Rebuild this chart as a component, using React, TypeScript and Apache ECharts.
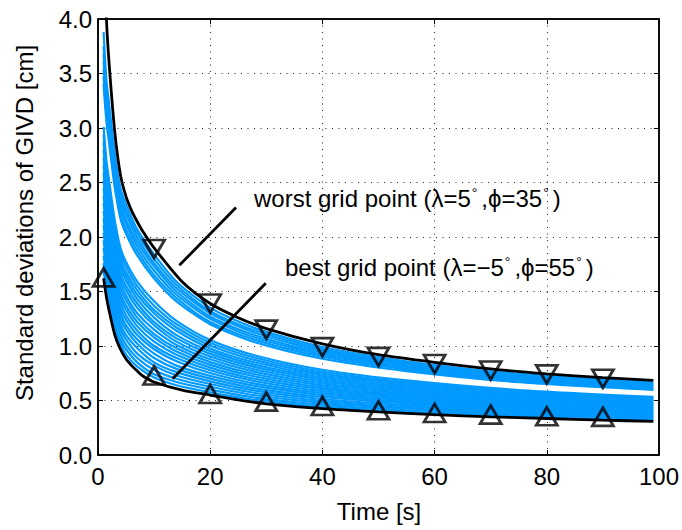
import React, { useEffect, useRef } from 'react';
import * as echarts from 'echarts';

// ---- data ----
const lineTimes = [1, 1.5, 2, 3, 4, 5, 6, 7, 8, 10, 15, 20, 25, 30, 40, 50, 60, 70, 80, 90, 99];
const worstValues = [4.7, 4.0, 3.58, 2.96, 2.57, 2.37, 2.24, 2.14, 2.05, 1.9, 1.59, 1.39, 1.26, 1.16, 1.02, 0.92, 0.85, 0.79, 0.745, 0.71, 0.685];
const bestValues = [1.62, 1.45, 1.32, 1.1, 0.97, 0.88, 0.82, 0.77, 0.725, 0.67, 0.595, 0.55, 0.505, 0.47, 0.425, 0.395, 0.37, 0.35, 0.335, 0.32, 0.308];

const worstMarkTimes = [10, 20, 30, 40, 50, 60, 70, 80, 90];
const worstMarkValues = [1.89, 1.39, 1.15, 0.99, 0.9, 0.835, 0.775, 0.74, 0.7];
const bestMarkTimes = [1, 10, 20, 30, 40, 50, 60, 70, 80, 90];
const bestMarkValues = [1.63, 0.73, 0.56, 0.49, 0.45, 0.41, 0.385, 0.37, 0.355, 0.35];

const blueTimes = [1, 1.5, 2, 3, 4, 5, 7, 10, 14, 20, 28, 40, 55, 75, 99];
const blueLower = [
  [1.69, 1.51, 1.38, 1.15, 1.02, 0.92, 0.81, 0.71, 0.64, 0.575, 0.505, 0.443, 0.397, 0.355, 0.319],
  [1.76, 1.58, 1.44, 1.2, 1.06, 0.97, 0.85, 0.74, 0.67, 0.6, 0.526, 0.461, 0.412, 0.367, 0.331],
  [1.83, 1.64, 1.5, 1.26, 1.11, 1.01, 0.89, 0.78, 0.7, 0.626, 0.548, 0.479, 0.427, 0.38, 0.342],
  [1.9, 1.7, 1.56, 1.31, 1.16, 1.06, 0.93, 0.82, 0.73, 0.651, 0.569, 0.496, 0.442, 0.393, 0.353],
  [1.97, 1.76, 1.62, 1.36, 1.2, 1.1, 0.98, 0.85, 0.76, 0.676, 0.591, 0.514, 0.458, 0.406, 0.365],
  [2.04, 1.83, 1.68, 1.41, 1.25, 1.15, 1.02, 0.89, 0.79, 0.701, 0.612, 0.532, 0.473, 0.418, 0.376],
  [2.11, 1.89, 1.74, 1.47, 1.3, 1.19, 1.06, 0.93, 0.82, 0.726, 0.634, 0.55, 0.488, 0.431, 0.387],
  [2.17, 1.95, 1.8, 1.52, 1.34, 1.24, 1.1, 0.97, 0.86, 0.752, 0.655, 0.568, 0.503, 0.444, 0.398],
  [2.24, 2.01, 1.86, 1.57, 1.39, 1.28, 1.14, 1.0, 0.89, 0.777, 0.677, 0.586, 0.518, 0.456, 0.41],
  [2.31, 2.08, 1.92, 1.62, 1.44, 1.33, 1.18, 1.04, 0.92, 0.802, 0.698, 0.604, 0.533, 0.469, 0.421],
  [2.38, 2.14, 1.98, 1.68, 1.48, 1.37, 1.22, 1.08, 0.95, 0.827, 0.72, 0.621, 0.548, 0.482, 0.432],
  [2.45, 2.2, 2.04, 1.73, 1.53, 1.42, 1.26, 1.11, 0.98, 0.852, 0.741, 0.639, 0.563, 0.494, 0.444],
  [2.52, 2.27, 2.1, 1.78, 1.58, 1.46, 1.3, 1.15, 1.01, 0.878, 0.763, 0.657, 0.578, 0.507, 0.455],
  [2.59, 2.33, 2.16, 1.83, 1.62, 1.51, 1.35, 1.19, 1.04, 0.903, 0.784, 0.675, 0.593, 0.52, 0.466],
  [2.66, 2.39, 2.22, 1.89, 1.67, 1.55, 1.39, 1.22, 1.07, 0.928, 0.806, 0.693, 0.609, 0.533, 0.478],
  [2.73, 2.45, 2.28, 1.94, 1.72, 1.6, 1.43, 1.26, 1.1, 0.953, 0.827, 0.711, 0.624, 0.545, 0.489],
  [2.8, 2.52, 2.33, 1.99, 1.76, 1.64, 1.47, 1.3, 1.14, 0.978, 0.849, 0.728, 0.639, 0.558, 0.5],
  [2.87, 2.58, 2.39, 2.04, 1.81, 1.68, 1.51, 1.33, 1.17, 1.004, 0.87, 0.746, 0.654, 0.571, 0.511],
  [2.94, 2.64, 2.45, 2.1, 1.86, 1.73, 1.55, 1.37, 1.2, 1.029, 0.892, 0.764, 0.669, 0.583, 0.523],
  [3.01, 2.7, 2.51, 2.15, 1.9, 1.77, 1.59, 1.41, 1.23, 1.054, 0.913, 0.782, 0.684, 0.596, 0.534],
];
const blueUpper = [
  [3.4, 3.06, 2.85, 2.45, 2.17, 2.03, 1.83, 1.62, 1.41, 1.2, 1.035, 0.883, 0.77, 0.668, 0.598],
  [3.47, 3.12, 2.91, 2.5, 2.21, 2.07, 1.87, 1.65, 1.44, 1.22, 1.056, 0.901, 0.785, 0.681, 0.609],
  [3.54, 3.18, 2.97, 2.55, 2.26, 2.12, 1.91, 1.69, 1.47, 1.25, 1.078, 0.919, 0.8, 0.693, 0.621],
  [3.61, 3.25, 3.03, 2.6, 2.31, 2.16, 1.95, 1.73, 1.5, 1.27, 1.099, 0.937, 0.815, 0.706, 0.632],
  [3.68, 3.31, 3.09, 2.65, 2.35, 2.21, 1.99, 1.76, 1.53, 1.3, 1.121, 0.955, 0.83, 0.719, 0.643],
  [3.75, 3.37, 3.15, 2.71, 2.4, 2.25, 2.03, 1.8, 1.56, 1.32, 1.142, 0.972, 0.845, 0.731, 0.655],
  [3.88, 3.44, 3.21, 2.76, 2.45, 2.3, 2.07, 1.84, 1.59, 1.35, 1.164, 0.99, 0.86, 0.744, 0.666],
];

const worstPointer = [[14.5, 1.74], [24.6, 2.27]];
const bestPointer = [[13.3, 0.7], [29.9, 1.575]];

const worstLabel = ['worst grid point (λ=5', ',ϕ=35', ')'];
const bestLabel = ['best grid point (λ=−5', ',ϕ=55', ')'];

const FONT = '"Liberation Sans", Arial, Helvetica, sans-serif';
const BLUE = '#0099ff';

const zip = (ts: number[], vs: number[]) => ts.map((t, i) => [t, vs[i]]);

export default function App() {
  const ref = useRef<HTMLDivElement>(null);
  useEffect(() => {
    document.body.style.margin = '0';
    const chart = echarts.init(ref.current!, undefined, { renderer: 'svg' });

    const blueSeries = [...blueLower, ...blueUpper].map((vals) => ({
      type: 'line',
      data: zip(blueTimes, vals),
      smooth: 0.25,
      showSymbol: false,
      symbol: 'none',
      lineStyle: { color: BLUE, width: 2.2 },
      z: 2,
      silent: true,
    }));

    const blackLine = (vals: number[]) => ({
      type: 'line',
      data: zip(lineTimes, vals),
      smooth: 0.25,
      symbol: 'none',
      lineStyle: { color: '#000', width: 2.8 },
      z: 3,
    });

    const pointer = (pts: number[][]) => ({
      type: 'line',
      data: pts,
      symbol: 'none',
      lineStyle: { color: '#000', width: 2.8 },
      z: 4,
    });

    const marks = (ts: number[], vs: number[], rotate: number) => ({
      type: 'scatter',
      data: zip(ts, vs),
      symbol: 'triangle',
      symbolSize: [21, 18],
      symbolRotate: rotate,
      itemStyle: { color: 'rgba(0,0,0,0)', borderColor: '#000', borderWidth: 2.8 },
      z: 5,
    });

    const axisLabel = { color: '#000', fontSize: 24, fontFamily: FONT };
    const splitLine = { show: true, lineStyle: { color: '#222', width: 1, type: [1, 5.5] } };
    const axisLine = { show: true, onZero: false, lineStyle: { color: '#000', width: 1.5 } };
    const axisTick = { show: true, inside: true, length: 5, lineStyle: { color: '#000', width: 1 } };

    const rich = {
      a: { fontSize: 24, fontFamily: FONT, color: '#000' },
      s: { fontSize: 14, fontFamily: FONT, color: '#000', verticalAlign: 'top', padding: [0, 4, 0, 1] },
    };
    const label = (parts: string[]) => `{a|${parts[0]}}{s|°}{a|${parts[1]}}{s|°}{a|${parts[2]}}`;

    chart.setOption({
      animation: false,
      grid: { left: 98, right: 19, top: 19, bottom: 75, show: true, borderColor: '#000', borderWidth: 1.5 },
      xAxis: [
        {
          type: 'value', min: 0, max: 100, interval: 20,
          axisLabel: { ...axisLabel, margin: 9 }, splitLine, axisLine, axisTick,
        },
        {
          type: 'value', position: 'top', min: 0, max: 100, interval: 20,
          axisLabel: { show: false }, splitLine: { show: false }, axisLine, axisTick,
        },
      ],
      yAxis: [
        {
          type: 'value', min: 0, max: 4, interval: 0.5,
          axisLabel: { ...axisLabel, margin: 6, formatter: (v: number) => v.toFixed(1) },
          splitLine, axisLine, axisTick,
        },
        {
          type: 'value', position: 'right', min: 0, max: 4, interval: 0.5,
          axisLabel: { show: false }, splitLine: { show: false }, axisLine, axisTick,
        },
      ],
      series: [
        ...blueSeries,
        blackLine(worstValues),
        blackLine(bestValues),
        pointer(worstPointer),
        pointer(bestPointer),
        marks(worstMarkTimes, worstMarkValues, 180),
        marks(bestMarkTimes, bestMarkValues, 0),
      ],
      graphic: [
        {
          type: 'text', x: 24, y: 223, rotation: Math.PI / 2,
          style: { text: 'Standard deviations of GIVD [cm]', fontSize: 24, fontFamily: FONT, fill: '#000', align: 'center', verticalAlign: 'middle' },
        },
        {
          type: 'text', x: 379, y: 511,
          style: { text: 'Time [s]', fontSize: 24, fontFamily: FONT, fill: '#000', align: 'center', verticalAlign: 'middle' },
        },
        {
          type: 'text', x: 254, y: 198,
          style: { text: label(worstLabel), rich, align: 'left', verticalAlign: 'middle' },
        },
        {
          type: 'text', x: 285, y: 267,
          style: { text: label(bestLabel), rich, align: 'left', verticalAlign: 'middle' },
        },
      ],
    });
    return () => chart.dispose();
  }, []);
  return <div ref={ref} style={{ width: 682, height: 530 }} />;
}
